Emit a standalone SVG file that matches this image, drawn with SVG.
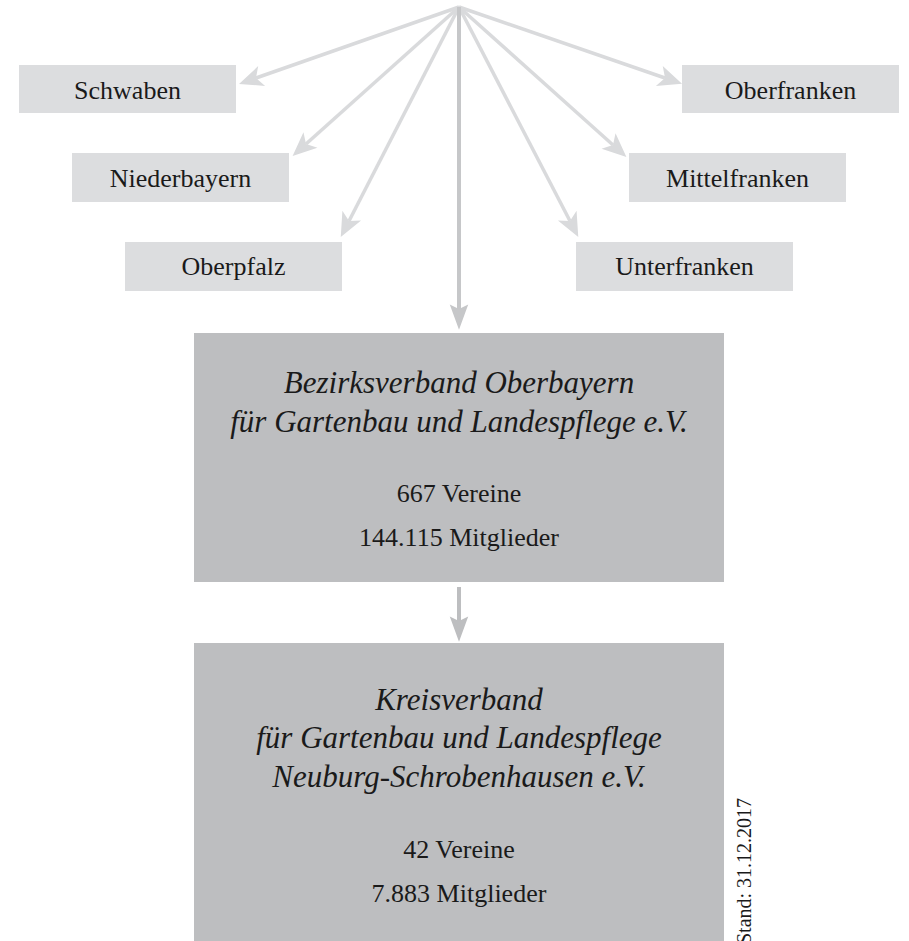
<svg xmlns="http://www.w3.org/2000/svg" width="909" height="941" viewBox="0 0 909 941">
<defs>
<style>
.bg{fill:#ffffff}
.small rect{fill:#dcdddf}
.big rect{fill:#bdbec0}
.t{font-family:"Liberation Serif","Times New Roman",serif;font-size:26px;fill:#1a1a1a;text-anchor:middle}
.it{font-family:"Liberation Serif","Times New Roman",serif;font-size:31px;font-style:italic;fill:#1a1a1a;text-anchor:middle}
.diag{stroke:#d9dadc;stroke-width:3.5;fill:none}
.main{stroke:#c6c7c9;stroke-width:4;fill:none}
.low{stroke:#bdbec0;stroke-width:4;fill:none}
.stand{font-family:"Liberation Serif","Times New Roman",serif;font-size:20px;fill:#1a1a1a}
</style>
<marker id="ad" markerUnits="userSpaceOnUse" markerWidth="30" markerHeight="30" refX="4" refY="0" viewBox="-2 -10 20 20" orient="auto" overflow="visible">
<path d="M16,0 L0,-7 L4,0 L0,7 Z" fill="#d9dadc"/>
</marker>
<marker id="am" markerUnits="userSpaceOnUse" markerWidth="30" markerHeight="30" refX="4" refY="0" viewBox="-2 -10 26 20" orient="auto" overflow="visible">
<path d="M22,0 L0,-8 L4,0 L0,8 Z" fill="#c6c7c9"/>
</marker>
<marker id="al" markerUnits="userSpaceOnUse" markerWidth="30" markerHeight="30" refX="4" refY="0" viewBox="-2 -10 26 20" orient="auto" overflow="visible">
<path d="M22,0 L0,-8 L4,0 L0,8 Z" fill="#bdbec0"/>
</marker>
</defs>
<rect class="bg" x="0" y="0" width="909" height="941"/>
<g id="connectors">
<line class="diag" x1="459" y1="7" x2="256" y2="78" marker-end="url(#ad)"/>
<line class="diag" x1="459" y1="7" x2="306" y2="144" marker-end="url(#ad)"/>
<line class="diag" x1="459" y1="7" x2="349" y2="221" marker-end="url(#ad)"/>
<line class="diag" x1="459" y1="7" x2="570" y2="221" marker-end="url(#ad)"/>
<line class="diag" x1="459" y1="7" x2="613" y2="145" marker-end="url(#ad)"/>
<line class="diag" x1="459" y1="7" x2="665" y2="78" marker-end="url(#ad)"/>
<line class="main" x1="459" y1="7" x2="459" y2="309" marker-end="url(#am)"/>
<line class="low" x1="459" y1="587" x2="459" y2="621" marker-end="url(#al)"/>
</g>
<g id="schwaben" class="small"><rect x="19" y="65" width="217" height="48"/><text class="t" x="127.5" y="99">Schwaben</text></g>
<g id="niederbayern" class="small"><rect x="72" y="153" width="217" height="49"/><text class="t" x="180.5" y="187">Niederbayern</text></g>
<g id="oberpfalz" class="small"><rect x="125" y="242" width="217" height="49"/><text class="t" x="233.5" y="275">Oberpfalz</text></g>
<g id="oberfranken" class="small"><rect x="682" y="65" width="217" height="48"/><text class="t" x="790.5" y="99">Oberfranken</text></g>
<g id="mittelfranken" class="small"><rect x="629" y="153" width="217" height="49"/><text class="t" x="737.5" y="187">Mittelfranken</text></g>
<g id="unterfranken" class="small"><rect x="576" y="242" width="217" height="49"/><text class="t" x="684.5" y="275">Unterfranken</text></g>
<g id="bezirksverband" class="big"><rect x="194" y="333" width="530" height="249"/>
<text class="it" x="459" y="393">Bezirksverband Oberbayern</text>
<text class="it" x="459" y="432">für Gartenbau und Landespflege e.V.</text>
<text class="t" x="459" y="502">667 Vereine</text>
<text class="t" x="459" y="546">144.115 Mitglieder</text>
</g>
<g id="kreisverband" class="big"><rect x="194" y="643" width="530" height="298"/>
<text class="it" x="459" y="710">Kreisverband</text>
<text class="it" x="459" y="748">für Gartenbau und Landespflege</text>
<text class="it" x="459" y="787">Neuburg-Schrobenhausen e.V.</text>
<text class="t" x="459" y="858">42 Vereine</text>
<text class="t" x="459" y="902">7.883 Mitglieder</text>
</g>
<text class="stand" transform="translate(751,944) rotate(-90)" x="0" y="0">Stand: 31.12.2017</text>
</svg>
